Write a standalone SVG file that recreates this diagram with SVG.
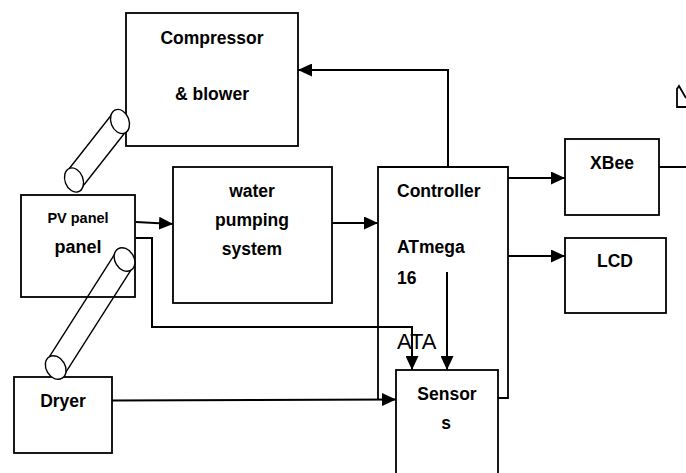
<svg xmlns="http://www.w3.org/2000/svg" width="686" height="473" viewBox="0 0 686 473">
<style>
.box{fill:#fff;stroke:#000;stroke-width:1.8}
.open{fill:none;stroke:#000;stroke-width:1.8}
.t{font-family:"Liberation Sans",Arial,sans-serif;font-weight:bold;font-size:17.5px;fill:#000}
.c{text-anchor:middle}
.cn{fill:none;stroke:#000;stroke-width:2}
.cyl{fill:#fff;stroke:#000;stroke-width:1.4}
</style>
<defs>
<marker id="ah" markerUnits="userSpaceOnUse" markerWidth="15" markerHeight="13" refX="14" refY="6.5" orient="auto">
<path d="M0,0 L14,6.5 L0,13 z" fill="#000"/>
</marker>
</defs>
<rect width="686" height="473" fill="#fff"/>
<g id="compressor">
<rect class="box" x="126" y="13" width="172" height="133"/>
<text class="t c" x="212" y="44">Compressor</text>
<text class="t c" x="212" y="100">&amp; blower</text>
</g>
<g id="pv-panel">
<rect class="box" x="21" y="195" width="114" height="102"/>
<text class="t c" x="78" y="223" style="font-size:14.5px">PV panel</text>
<text class="t c" x="78" y="253" style="font-size:18px">panel</text>
</g>
<g id="water-pumping">
<rect class="box" x="173" y="167" width="159" height="136"/>
<text class="t c" x="252" y="197">water</text>
<text class="t c" x="252" y="226">pumping</text>
<text class="t c" x="252" y="255">system</text>
</g>
<g id="controller">
<path class="open" d="M378,399 V167 H508 V398 H498"/>
<text class="t" x="397" y="197">Controller</text>
<text class="t" x="397" y="253">ATmega</text>
<text class="t" x="397" y="284">16</text>
</g>
<g id="xbee">
<rect class="box" x="565" y="139" width="94" height="76"/>
<text class="t c" x="612" y="169">XBee</text>
</g>
<g id="lcd">
<rect class="box" x="565" y="238" width="101" height="75"/>
<text class="t c" x="615" y="267">LCD</text>
</g>
<g id="dryer">
<rect class="box" x="14" y="377" width="98" height="76"/>
<text class="t c" x="63" y="407">Dryer</text>
</g>
<g id="sensors">
<rect class="box" x="396" y="370" width="102" height="112"/>
<text class="t c" x="447" y="400">Sensor</text>
<text class="t c" x="446" y="429">s</text>
</g>
<g id="antenna">
<path class="open" d="M686,98 L679,86 L677,89 L677,107 L686,107" stroke-width="1.6"/>
</g>
<g id="pipes">
<path class="cyl" d="M69.5,168.3 L115.5,109.8 M78.5,191.7 L124.5,133.2"/>
<ellipse class="cyl" cx="0" cy="0" rx="9" ry="12.5" transform="translate(74,180) rotate(-21)"/>
<ellipse class="cyl" cx="0" cy="0" rx="9" ry="12.5" transform="translate(120,121.5) rotate(-21)"/>
<path class="cyl" d="M49.3,356.8 L118.1,248.8 M62.1,378.2 L130.9,270.2"/>
<ellipse class="cyl" cx="0" cy="0" rx="9.5" ry="12.5" transform="translate(55.7,367.5) rotate(-31)"/>
<ellipse class="cyl" cx="0" cy="0" rx="9.5" ry="12.5" transform="translate(124.5,259.5) rotate(-31)"/>
</g>
<g id="connectors">
<polyline class="cn" points="448,167 448,70 298,70" marker-end="url(#ah)"/>
<line class="cn" x1="136" y1="222" x2="173" y2="224" marker-end="url(#ah)"/>
<line class="cn" x1="332" y1="223" x2="378" y2="223" marker-end="url(#ah)"/>
<line class="cn" x1="508" y1="178" x2="565" y2="178" marker-end="url(#ah)"/>
<line class="cn" x1="508" y1="256" x2="565" y2="256" marker-end="url(#ah)"/>
<line class="cn" x1="659" y1="167" x2="686" y2="167" stroke-width="1.6"/>
<polyline class="cn" points="136,238 152,238 152,327 412,327 412,370" marker-end="url(#ah)" stroke-width="1.7"/>
<line class="cn" x1="447" y1="272" x2="447" y2="370" marker-end="url(#ah)"/>
<line class="cn" x1="112" y1="400.5" x2="396" y2="399.5" marker-end="url(#ah)"/>
</g>
<text x="397" y="349" style="font-family:'Liberation Sans',Arial,sans-serif;font-size:22px;fill:#000">ATA</text>
</svg>
